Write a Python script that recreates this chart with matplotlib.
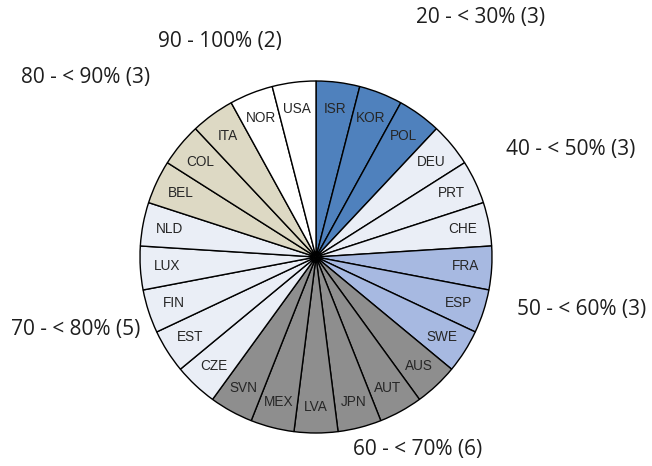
import matplotlib
matplotlib.use("Agg")
import matplotlib.pyplot as plt

countries = ["ISR", "KOR", "POL",
             "DEU", "PRT", "CHE",
             "FRA", "ESP", "SWE",
             "AUS", "AUT", "JPN", "LVA", "MEX", "SVN",
             "CZE", "EST", "FIN", "LUX", "NLD",
             "BEL", "COL", "ITA",
             "NOR", "USA"]
groups = ["20 - < 30%", "40 - < 50%", "50 - < 60%", "60 - < 70%",
          "70 - < 80%", "80 - < 90%", "90 - 100%"]
group_counts = [3, 3, 3, 6, 5, 3, 2]
group_colors = ["#4F81BD", "#EAEEF6", "#A7B9E1", "#8E8E8E",
                "#EAEEF6", "#DDD9C4", "#FFFFFF"]
# group label anchor positions (pixel coordinates from top-left)
group_label_pos = [(481, 17), (571, 149), (582, 310), (418, 450),
                   (76, 330), (86, 78), (220, 42)]

W, H = 652, 466
fig = plt.figure(figsize=(W / 100, H / 100), dpi=100)
ax = fig.add_axes([0, 0, 1, 1])
ax.set_xlim(0, W)
ax.set_ylim(0, H)
ax.set_aspect("equal")
ax.axis("off")

colors = []
for c, n in zip(group_colors, group_counts):
    colors += [c] * n

cx, cy, r = 316, H - 257, 176
values = [1] * len(countries)
wedges, texts = ax.pie(values, colors=colors, startangle=90, counterclock=False,
                       center=(cx, cy), radius=r, labels=countries,
                       labeldistance=0.85,
                       wedgeprops=dict(edgecolor="black", linewidth=1.0),
                       textprops=dict(fontsize=9.8, family="Liberation Sans",
                                      color="#262626", ha="center", va="center"))
for t in texts:
    t.set_ha("center")
    t.set_va("center")
ax.set_xlim(0, W)
ax.set_ylim(0, H)

for g, n, (x, y) in zip(groups, group_counts, group_label_pos):
    ax.text(x, H - y, f"{g} ({n})", fontsize=15, family="Open Sans",
            color="#1E1E1E", ha="center", va="center")

fig.savefig("out.png", dpi=100)
